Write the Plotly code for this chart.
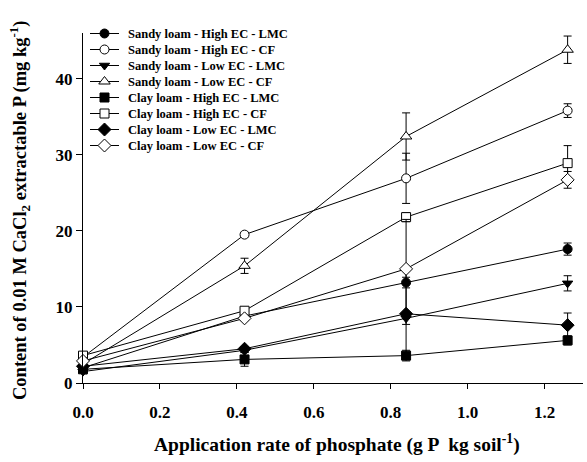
import plotly.graph_objects as go

# Application rates (g P kg soil^-1)
rates = [0.0, 0.42, 0.84, 1.26]

series_names = [
    "Sandy loam - High EC - LMC",
    "Sandy loam - High EC - CF",
    "Sandy loam - Low EC - LMC",
    "Sandy loam - Low EC - CF",
    "Clay loam - High EC - LMC",
    "Clay loam - High EC - CF",
    "Clay loam - Low EC - LMC",
    "Clay loam - Low EC - CF",
]

# CaCl2-extractable P (mg kg^-1), means
sandy_high_lmc = [2.0, 8.8, 13.2, 17.6]
sandy_high_cf = [3.4, 19.5, 26.9, 35.8]
sandy_low_lmc = [1.5, 4.3, 8.5, 13.1]
sandy_low_cf = [2.5, 15.4, 32.4, 43.8]
clay_high_lmc = [1.8, 3.1, 3.6, 5.6]
clay_high_cf = [3.6, 9.5, 21.8, 28.9]
clay_low_lmc = [2.2, 4.5, 9.1, 7.6]
clay_low_cf = [2.9, 8.5, 15.0, 26.7]

# Standard errors
sandy_high_lmc_err = [0.3, 0.3, 0.7, 0.8]
sandy_high_cf_err = [0.4, 0.3, 3.3, 0.9]
sandy_low_lmc_err = [0.3, 0.3, 0.8, 1.0]
sandy_low_cf_err = [0.3, 1.0, 3.1, 1.8]
clay_high_lmc_err = [0.3, 0.9, 0.7, 0.6]
clay_high_cf_err = [0.4, 0.3, 0.6, 2.3]
clay_low_lmc_err = [0.3, 0.3, 6.0, 1.6]
clay_low_cf_err = [0.4, 0.3, 6.5, 1.1]

means = [sandy_high_lmc, sandy_high_cf, sandy_low_lmc, sandy_low_cf,
         clay_high_lmc, clay_high_cf, clay_low_lmc, clay_low_cf]
errors = [sandy_high_lmc_err, sandy_high_cf_err, sandy_low_lmc_err, sandy_low_cf_err,
          clay_high_lmc_err, clay_high_cf_err, clay_low_lmc_err, clay_low_cf_err]

symbols = ["circle", "circle-open", "triangle-down", "triangle-up-open",
           "square", "square-open", "diamond", "diamond-open"]
sizes = [9, 9, 9, 10, 9, 9, 10, 10]

x_ticks = [0.0, 0.2, 0.4, 0.6, 0.8, 1.0, 1.2]
x_ticklabels = ["0.0", "0.2", "0.4", "0.6", "0.8", "1.0", "1.2"]
y_ticks = [0, 10, 20, 30, 40]

x_title = "Application rate of phosphate (g P  kg soil<sup>-1</sup>)"
y_title = "Content of 0.01 M CaCl<sub>2</sub> extractable P (mg kg<sup>-1</sup>)"

FONT = "Liberation Serif"

# Plot area in pixels
W, H = 587, 462
L, R, T, B = 83, 4, 33, 79
PW, PH = W - L - R, H - T - B

# Compact legend layout (pixel offsets within the figure)
LEG_LINE_X0, LEG_LINE_X1, LEG_TEXT_X = 90, 119, 126
LEG_TOP, LEG_STEP = 33.5, 16.0

# Axis-title anchor points (pixels from the figure's top-left corner)
X_TITLE_CX, X_TITLE_BOTTOM = 337, 458
Y_TITLE_CX, Y_TITLE_CY = 19, 210


def marker_style(sym, sz):
    is_open = sym.endswith("-open")
    return dict(symbol=sym.replace("-open", ""), size=sz,
                color="white" if is_open else "black",
                line=dict(color="black", width=1))


fig = go.Figure()
for name, y, err, sym, sz in zip(series_names, means, errors, symbols, sizes):
    fig.add_trace(go.Scatter(
        x=rates, y=y, name=name, mode="lines+markers",
        line=dict(color="black", width=1),
        marker=marker_style(sym, sz),
        error_y=dict(type="data", array=err, visible=True,
                     color="black", thickness=1, width=4),
        cliponaxis=False, showlegend=False,
    ))

# Legend key drawn on a pixel-unit overlay so rows can sit closer together
annotations = []
for i, (name, sym, sz) in enumerate(zip(series_names, symbols, sizes)):
    ry = (T + PH) - (LEG_TOP + i * LEG_STEP)
    x0, x1 = LEG_LINE_X0 - L, LEG_LINE_X1 - L
    xm = (x0 + x1) / 2
    fig.add_trace(go.Scatter(
        x=[x0, x1], y=[ry, ry], mode="lines", xaxis="x2", yaxis="y2",
        line=dict(color="black", width=1), showlegend=False,
        hoverinfo="skip", cliponaxis=False,
    ))
    fig.add_trace(go.Scatter(
        x=[xm], y=[ry], mode="markers", xaxis="x2", yaxis="y2",
        marker=marker_style(sym, sz), showlegend=False,
        hoverinfo="skip", cliponaxis=False,
    ))
    annotations.append(dict(
        x=LEG_TEXT_X - L, y=ry, xref="x2", yref="y2",
        text=name, showarrow=False, xanchor="left", yanchor="middle",
        font=dict(family=FONT, size=12.5, color="black", weight="bold"),
    ))

# Axis titles, placed by pixel offsets from the plot-area corner
annotations.append(dict(
    x=0, y=0, xref="paper", yref="paper",
    xshift=X_TITLE_CX - L, yshift=(T + PH) - X_TITLE_BOTTOM,
    text=x_title, showarrow=False, xanchor="center", yanchor="bottom",
    font=dict(family=FONT, size=19.5, color="black", weight="bold"),
))
annotations.append(dict(
    x=0, y=0, xref="paper", yref="paper",
    xshift=Y_TITLE_CX - L, yshift=(T + PH) - Y_TITLE_CY,
    text=y_title, showarrow=False, xanchor="center", yanchor="middle",
    textangle=-90,
    font=dict(family=FONT, size=18.5, color="black", weight="bold"),
))

fig.update_layout(
    width=W, height=H,
    margin=dict(l=L, r=R, t=T, b=B),
    paper_bgcolor="white", plot_bgcolor="white",
    font=dict(family=FONT, color="black"),
    showlegend=False,
    annotations=annotations,
    xaxis=dict(
        range=[0, 1.3], tickvals=x_ticks, ticktext=x_ticklabels,
        showgrid=False, zeroline=False, showline=True, automargin=False,
        linecolor="black", linewidth=1,
        ticks="outside", ticklen=5, tickcolor="black", ticklabelstandoff=9,
        tickfont=dict(family=FONT, size=17, weight="bold"),
    ),
    yaxis=dict(
        range=[0, 46], tickvals=y_ticks,
        showgrid=False, zeroline=False, showline=True, automargin=False,
        linecolor="black", linewidth=1,
        ticks="outside", ticklen=6, tickcolor="black",
        tickfont=dict(family=FONT, size=17, weight="bold"),
    ),
    xaxis2=dict(overlaying="x", range=[0, PW], visible=False, fixedrange=True),
    yaxis2=dict(overlaying="y", range=[0, PH], visible=False, fixedrange=True),
)

fig.write_html("out.html")
